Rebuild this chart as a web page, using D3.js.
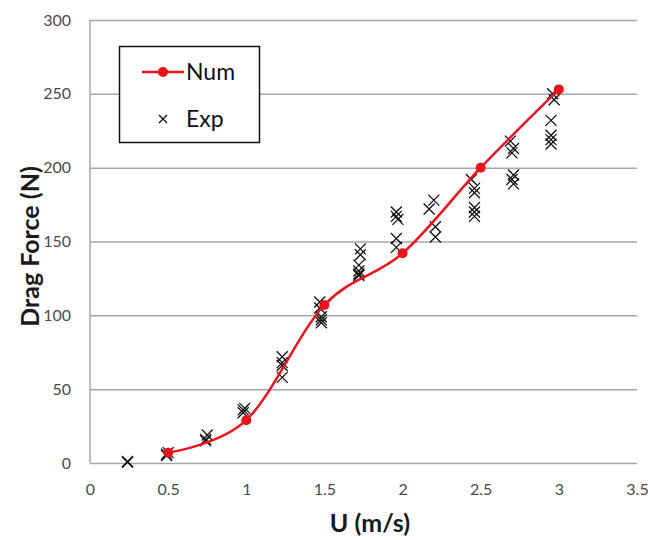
<!DOCTYPE html>
<html>
<head>
<meta charset="utf-8">
<script src="https://cdn.jsdelivr.net/npm/d3@7"></script>
<style>
  body { margin: 0; background: #fff; }
  text { font-family: Lato, "Open Sans", sans-serif; }
</style>
</head>
<body>
<svg id="chart" width="650" height="540"></svg>
<script>
// numerical results (red smoothed line)
const num_u = [0.5, 1, 1.5, 2, 2.5, 3];
const num_f = [7, 29, 107, 142, 200, 253];

// experimental points [U, F]
const exp_pts = [
  [0.24, 1], [0.24, 0.5],
  [0.49, 5], [0.49, 6], [0.5, 7],
  [0.74, 15], [0.74, 16], [0.75, 19],
  [0.98, 34], [0.98, 36], [0.99, 37],
  [1.23, 72], [1.23, 68], [1.23, 66], [1.23, 58],
  [1.47, 109], [1.47, 105], [1.48, 99], [1.48, 97], [1.48, 95],
  [1.73, 145], [1.73, 141], [1.72, 134], [1.72, 130], [1.72, 128], [1.72, 127],
  [1.96, 170], [1.96, 167], [1.97, 165], [1.96, 152], [1.96, 146],
  [2.17, 172], [2.2, 178], [2.21, 160], [2.21, 153],
  [2.44, 192], [2.46, 186], [2.46, 183], [2.46, 173], [2.46, 170], [2.46, 167],
  [2.69, 218], [2.71, 213], [2.7, 210], [2.71, 195], [2.7, 192], [2.71, 189],
  [2.96, 250], [2.97, 246], [2.95, 232], [2.95, 222], [2.95, 219], [2.95, 216]
];

const x_ticks = [0, 0.5, 1, 1.5, 2, 2.5, 3, 3.5];
const y_ticks = [0, 50, 100, 150, 200, 250, 300];

const margin = { left: 90, right: 13, top: 20, bottom: 77 };
const width = 650, height = 540;
const svg = d3.select("#chart");

const x_scale = d3.scaleLinear().domain([0, 3.5]).range([margin.left, width - margin.right]);
const y_scale = d3.scaleLinear().domain([0, 300]).range([height - margin.bottom, margin.top]);

const grid_col = "#a6a6a6";
const red = "#e8141c";

// horizontal grid lines
svg.append("g")
  .attr("class", "grid")
  .attr("transform", "translate(" + margin.left + ",0)")
  .call(d3.axisLeft(y_scale).tickValues(y_ticks).tickSize(-(x_scale(3.5) - margin.left)).tickFormat(""))
  .call(g => g.select(".domain").remove())
  .selectAll("line")
  .attr("stroke", grid_col)
  .attr("stroke-width", 1.5);

// left axis line
svg.append("line")
  .attr("x1", x_scale(0)).attr("x2", x_scale(0))
  .attr("y1", y_scale(0)).attr("y2", y_scale(300))
  .attr("stroke", grid_col).attr("stroke-width", 1.5);

// y tick labels
svg.append("g")
  .attr("transform", "translate(" + (margin.left - 19) + ",0)")
  .call(d3.axisLeft(y_scale).tickValues(y_ticks).tickSize(0).tickPadding(0))
  .call(g => g.select(".domain").remove())
  .selectAll("text")
  .attr("font-size", 16)
  .attr("fill", "#4a4a4a")
  .style("font-family", "Lato, sans-serif");

// x tick labels
svg.append("g")
  .attr("transform", "translate(0," + (y_scale(0) + 21) + ")")
  .call(d3.axisBottom(x_scale).tickValues(x_ticks).tickSize(0).tickPadding(0).tickFormat(d3.format("")))
  .call(g => g.select(".domain").remove())
  .selectAll("text")
  .attr("font-size", 16)
  .attr("fill", "#4a4a4a")
  .style("font-family", "Lato, sans-serif");

// axis titles
svg.append("text")
  .attr("transform", "translate(39," + ((y_scale(0) + y_scale(300)) / 2 + 5) + ") rotate(-90)")
  .attr("text-anchor", "middle")
  .attr("font-size", 25)
  .attr("font-weight", "bold")
  .attr("fill", "#1a1a1a")
  .text("Drag Force (N)");

svg.append("text")
  .attr("x", 370)
  .attr("y", 532)
  .attr("text-anchor", "middle")
  .attr("font-size", 25)
  .attr("font-weight", "bold")
  .attr("fill", "#1a1a1a")
  .text("U (m/s)");

// experimental crosses
function cross(sel, s) {
  sel.append("path")
    .attr("d", "M" + -s + "," + -s + "L" + s + "," + s + "M" + s + "," + -s + "L" + -s + "," + s)
    .attr("stroke", "#111")
    .attr("stroke-width", 1.3)
    .attr("fill", "none");
}

svg.append("g")
  .attr("class", "exp")
  .selectAll(null)
  .data(exp_pts)
  .enter()
  .append("g")
  .attr("transform", d => "translate(" + x_scale(d[0]) + "," + y_scale(d[1]) + ")")
  .each(function () { cross(d3.select(this), 5.5); });

// numerical line
const num_data = num_u.map((u, i) => [u, num_f[i]]);
const line = d3.line()
  .x(d => x_scale(d[0]))
  .y(d => y_scale(d[1]))
  .curve(d3.curveCardinal.tension(0));

svg.append("path")
  .datum(num_data)
  .attr("d", line)
  .attr("fill", "none")
  .attr("stroke", red)
  .attr("stroke-width", 2.5);

svg.append("g")
  .selectAll(null)
  .data(num_data)
  .enter()
  .append("circle")
  .attr("cx", d => x_scale(d[0]))
  .attr("cy", d => y_scale(d[1]))
  .attr("r", 5)
  .attr("fill", red);

// legend
const leg = svg.append("g").attr("class", "legend");
leg.append("rect")
  .attr("x", 119.5).attr("y", 46.5)
  .attr("width", 140).attr("height", 96)
  .attr("fill", "#fff")
  .attr("stroke", "#111")
  .attr("stroke-width", 1.5);

leg.append("line")
  .attr("x1", 142).attr("x2", 184)
  .attr("y1", 72).attr("y2", 72)
  .attr("stroke", red).attr("stroke-width", 2.5);
leg.append("circle")
  .attr("cx", 163).attr("cy", 72).attr("r", 5).attr("fill", red);
leg.append("text")
  .attr("x", 186).attr("y", 80)
  .attr("font-size", 23)
  .attr("fill", "#111")
  .text("Num");

leg.append("g")
  .attr("transform", "translate(163,119)")
  .call(cross, 4);
leg.append("text")
  .attr("x", 186).attr("y", 127)
  .attr("font-size", 23)
  .attr("fill", "#111")
  .text("Exp");
</script>
</body>
</html>
